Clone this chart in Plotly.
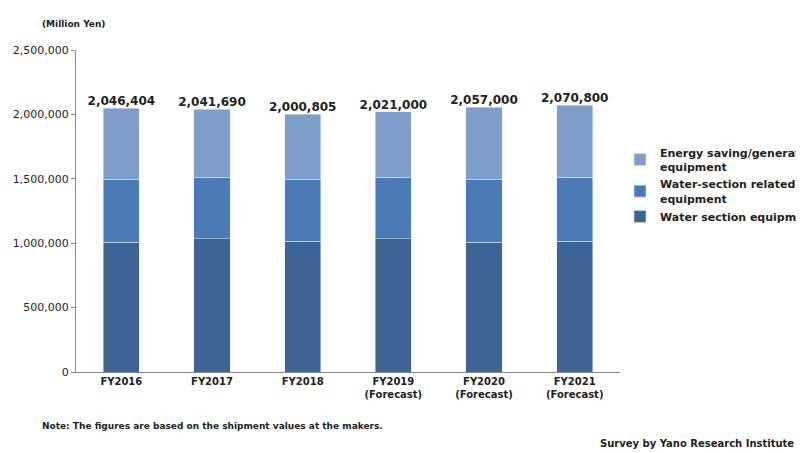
import plotly.graph_objects as go

years = ["FY2016", "FY2017", "FY2018", "FY2019<br>(Forecast)", "FY2020<br>(Forecast)", "FY2021<br>(Forecast)"]
totals = [2046404, 2041690, 2000805, 2021000, 2057000, 2070800]
water = [1009000, 1033000, 1017000, 1033000, 1009000, 1017000]
related = [489000, 481000, 481000, 481000, 489000, 497000]
energy = [t - w - r for t, w, r in zip(totals, water, related)]

fnt = dict(family="DejaVu Sans", size=10, color="#222", weight="bold")
fig = go.Figure()
fig.add_bar(x=years, y=water, name="Water section equipment", marker_color="#3E6496")
fig.add_bar(x=years, y=related, name="Water-section related<br>equipment", marker_color="#4A7BB7")
fig.add_bar(x=years, y=energy, name="Energy saving/generating<br>equipment", marker_color="#7F9FCB")
fig.add_scatter(x=years, y=totals, mode="text", text=[f"{t:,}" for t in totals],
                textposition="top center", showlegend=False,
                textfont=dict(family="DejaVu Sans", size=12, color="#222", weight="bold"))
fig.update_traces(width=0.4, selector=dict(type="bar"))

h_plot = 453 - 42 - 89
w_plot = 804 - 68 - 192
fig.update_layout(
    barmode="stack", width=804, height=453, plot_bgcolor="white", paper_bgcolor="white",
    font=fnt,
    margin=dict(l=68, r=192, t=42, b=89, autoexpand=False),
    yaxis=dict(range=[0, 2500000], dtick=500000, tickformat=",", showgrid=False,
               showline=True, linecolor="#888", ticks="outside", ticklen=4, tickcolor="#888",
               tickfont=dict(weight="normal", size=11)),
    xaxis=dict(showline=True, linecolor="#888"),
    legend=dict(x=1.0, y=0.58, xanchor="left", yanchor="middle", traceorder="reversed",
                font=dict(size=11), tracegroupgap=8),
    annotations=[
        dict(text="(Million Yen)", x=-36 / w_plot, y=1 + 26 / h_plot, xref="paper", yref="paper",
             xanchor="left", yanchor="middle", showarrow=False, font=dict(size=9)),
        dict(text="Note: The figures are based on the shipment values at the makers.",
             x=-36 / w_plot, y=-(418 - 364) / h_plot, xref="paper", yref="paper",
             showarrow=False, xanchor="left", yanchor="middle", font=dict(size=9)),
        dict(text="Survey by Yano Research Institute", x=(788 - 68) / w_plot,
             y=-(435 - 364) / h_plot, xref="paper", yref="paper",
             showarrow=False, xanchor="right", yanchor="middle", font=dict(size=10)),
    ],
)
fig.write_html("out.html")
